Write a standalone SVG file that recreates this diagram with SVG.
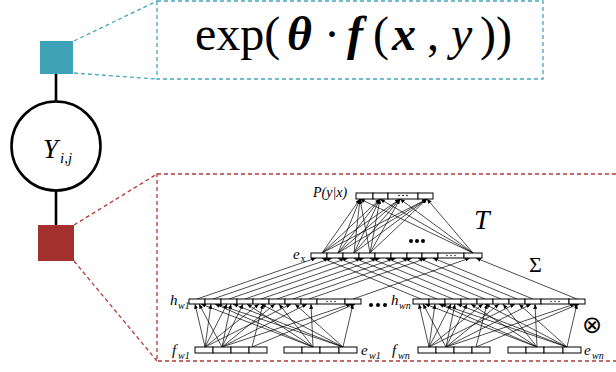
<svg xmlns="http://www.w3.org/2000/svg" width="616" height="372" viewBox="0 0 616 372">
<style>
.serif{font-family:"Liberation Serif","DejaVu Serif",serif;fill:#000}
.it{font-style:italic}
.bi{font-style:italic;font-weight:bold}
.thick{stroke:#000;stroke-width:2.6;fill:none}
.teal{stroke:#45A6BE;stroke-width:1.3;fill:none;stroke-dasharray:4 3}
.red{stroke:#B23A36;stroke-width:1.3;fill:none;stroke-dasharray:4 3}
.cell{fill:#fff;stroke:#000;stroke-width:1}
.e line{stroke:#000;stroke-width:0.7;marker-end:url(#ah)}
.dot{fill:#000}
</style>
<defs>
<marker id="ah" viewBox="0 0 6 5" refX="6" refY="2.5" markerWidth="5" markerHeight="4" markerUnits="userSpaceOnUse" orient="auto">
<path d="M0,0 L6,2.5 L0,5 z" fill="#000"/>
</marker>
</defs>
<rect width="616" height="372" fill="#fff"/>

<g id="connectors">
<line class="thick" x1="56" y1="74" x2="56" y2="101"/>
<line class="thick" x1="56" y1="191" x2="56" y2="225"/>
<line class="teal" x1="74" y1="41" x2="157" y2="1"/>
<line class="teal" x1="74" y1="73" x2="157" y2="79"/>
<line class="red" x1="74" y1="225" x2="157" y2="174"/>
<line class="red" x1="74" y1="261" x2="157" y2="361"/>
</g>

<g id="factor-top"><rect x="40" y="41" width="33" height="33" fill="#3FA2B7"/></g>
<g id="node-Y">
<circle cx="56" cy="146" r="44.5" fill="#fff" stroke="#000" stroke-width="2.6"/>
<text class="serif it" x="43" y="158" font-size="27">Y</text>
<text class="serif it" x="60" y="163" font-size="15">i,j</text>
</g>
<g id="factor-bottom"><rect x="38" y="225" width="36" height="36" fill="#A3302C"/></g>

<g id="formula-box">
<rect class="teal" x="157" y="1" width="386" height="78"/>
<text class="serif" y="50" font-size="48"><tspan x="195">exp(</tspan><tspan class="bi" x="287">θ</tspan><tspan x="324">·</tspan><tspan class="bi" x="347">f</tspan><tspan x="373">(</tspan><tspan class="bi" x="392">x</tspan><tspan x="427">,</tspan><tspan class="it" x="451">y</tspan><tspan x="480">))</tspan></text>
</g>

<g id="network-box">
<rect class="red" x="157" y="174" width="490" height="187"/>

<g class="e" id="edges-top">
<line x1="322" y1="253" x2="360" y2="199"/><line x1="322" y1="253" x2="380" y2="199"/><line x1="322" y1="253" x2="400" y2="199"/><line x1="322" y1="253" x2="427" y2="199"/>
<line x1="338" y1="253" x2="360" y2="199"/><line x1="338" y1="253" x2="380" y2="199"/><line x1="338" y1="253" x2="400" y2="199"/><line x1="338" y1="253" x2="427" y2="199"/>
<line x1="354" y1="253" x2="360" y2="199"/><line x1="354" y1="253" x2="380" y2="199"/><line x1="354" y1="253" x2="400" y2="199"/><line x1="354" y1="253" x2="427" y2="199"/>
<line x1="370" y1="253" x2="360" y2="199"/><line x1="370" y1="253" x2="380" y2="199"/><line x1="370" y1="253" x2="400" y2="199"/><line x1="370" y1="253" x2="427" y2="199"/>
<line x1="473" y1="253" x2="360" y2="199"/><line x1="473" y1="253" x2="380" y2="199"/><line x1="473" y1="253" x2="400" y2="199"/><line x1="473" y1="253" x2="427" y2="199"/>
</g>
<g class="e" id="edges-mid">
<line x1="197" y1="299" x2="316" y2="258"/><line x1="213" y1="299" x2="332" y2="258"/><line x1="229" y1="299" x2="348" y2="258"/><line x1="245" y1="299" x2="364" y2="258"/><line x1="261" y1="299" x2="380" y2="258"/><line x1="277" y1="299" x2="396" y2="258"/><line x1="293" y1="299" x2="412" y2="258"/><line x1="309" y1="299" x2="427" y2="258"/><line x1="353" y1="299" x2="470" y2="258"/>
<line x1="421" y1="299" x2="322" y2="258"/><line x1="437" y1="299" x2="338" y2="258"/><line x1="453" y1="299" x2="354" y2="258"/><line x1="469" y1="299" x2="370" y2="258"/><line x1="485" y1="299" x2="386" y2="258"/><line x1="501" y1="299" x2="402" y2="258"/><line x1="517" y1="299" x2="418" y2="258"/><line x1="533" y1="299" x2="433" y2="258"/><line x1="577" y1="299" x2="476" y2="258"/>
</g>
<g class="e" id="edges-w1">
<line x1="205" y1="347" x2="195" y2="304"/><line x1="205" y1="347" x2="211" y2="304"/><line x1="205" y1="347" x2="227" y2="304"/><line x1="205" y1="347" x2="259" y2="304"/><line x1="205" y1="347" x2="291" y2="304"/>
<line x1="222" y1="347" x2="199" y2="304"/><line x1="222" y1="347" x2="231" y2="304"/><line x1="222" y1="347" x2="243" y2="304"/><line x1="222" y1="347" x2="275" y2="304"/><line x1="222" y1="347" x2="307" y2="304"/><line x1="222" y1="347" x2="351" y2="304"/>
<line x1="252" y1="347" x2="263" y2="304"/><line x1="252" y1="347" x2="355" y2="304"/>
<line x1="313" y1="347" x2="201" y2="304"/><line x1="313" y1="347" x2="215" y2="304"/><line x1="313" y1="347" x2="247" y2="304"/><line x1="313" y1="347" x2="279" y2="304"/><line x1="313" y1="347" x2="311" y2="304"/>
<line x1="343" y1="347" x2="217" y2="304"/><line x1="343" y1="347" x2="233" y2="304"/><line x1="343" y1="347" x2="261" y2="304"/><line x1="343" y1="347" x2="295" y2="304"/><line x1="343" y1="347" x2="353" y2="304"/>
</g>
<g class="e" id="edges-wn">
<line x1="429" y1="347" x2="419" y2="304"/><line x1="429" y1="347" x2="435" y2="304"/><line x1="429" y1="347" x2="451" y2="304"/><line x1="429" y1="347" x2="483" y2="304"/><line x1="429" y1="347" x2="515" y2="304"/>
<line x1="446" y1="347" x2="423" y2="304"/><line x1="446" y1="347" x2="455" y2="304"/><line x1="446" y1="347" x2="467" y2="304"/><line x1="446" y1="347" x2="499" y2="304"/><line x1="446" y1="347" x2="531" y2="304"/><line x1="446" y1="347" x2="575" y2="304"/>
<line x1="476" y1="347" x2="487" y2="304"/><line x1="476" y1="347" x2="579" y2="304"/>
<line x1="537" y1="347" x2="425" y2="304"/><line x1="537" y1="347" x2="439" y2="304"/><line x1="537" y1="347" x2="471" y2="304"/><line x1="537" y1="347" x2="503" y2="304"/><line x1="537" y1="347" x2="535" y2="304"/>
<line x1="567" y1="347" x2="441" y2="304"/><line x1="567" y1="347" x2="457" y2="304"/><line x1="567" y1="347" x2="485" y2="304"/><line x1="567" y1="347" x2="519" y2="304"/><line x1="567" y1="347" x2="577" y2="304"/>
</g>

<g id="layer-P">
<rect class="cell" x="356" y="193" width="17" height="6"/><rect class="cell" x="373" y="193" width="15" height="6"/><rect class="cell" x="388" y="193" width="30" height="6"/><rect class="cell" x="418" y="193" width="15" height="6"/>
<circle class="dot" cx="399" cy="195.5" r="0.8"/><circle class="dot" cx="403" cy="195.5" r="0.8"/><circle class="dot" cx="407" cy="195.5" r="0.8"/>
<text class="serif it" x="313" y="197" font-size="14">P(y|x)</text>
</g>
<g id="layer-ex">
<rect class="cell" x="311" y="253" width="16" height="5"/><rect class="cell" x="327" y="253" width="16" height="5"/><rect class="cell" x="343" y="253" width="16" height="5"/><rect class="cell" x="359" y="253" width="16" height="5"/><rect class="cell" x="375" y="253" width="16" height="5"/><rect class="cell" x="391" y="253" width="16" height="5"/><rect class="cell" x="407" y="253" width="15" height="5"/><rect class="cell" x="422" y="253" width="16" height="5"/><rect class="cell" x="438" y="253" width="26" height="5"/><rect class="cell" x="464" y="253" width="18" height="5"/>
<circle class="dot" cx="447" cy="255.5" r="0.7"/><circle class="dot" cx="451" cy="255.5" r="0.7"/><circle class="dot" cx="455" cy="255.5" r="0.7"/>
<text class="serif it" x="293" y="259" font-size="15">e</text><text class="serif" x="300.5" y="262" font-size="10">x</text>
</g>
<g id="layer-hw1">
<rect class="cell" x="189" y="299" width="16" height="5"/><rect class="cell" x="205" y="299" width="16" height="5"/><rect class="cell" x="221" y="299" width="16" height="5"/><rect class="cell" x="237" y="299" width="16" height="5"/><rect class="cell" x="253" y="299" width="16" height="5"/><rect class="cell" x="269" y="299" width="16" height="5"/><rect class="cell" x="285" y="299" width="16" height="5"/><rect class="cell" x="301" y="299" width="16" height="5"/><rect class="cell" x="317" y="299" width="28" height="5"/><rect class="cell" x="345" y="299" width="16" height="5"/>
<circle class="dot" cx="327" cy="301.5" r="0.7"/><circle class="dot" cx="331" cy="301.5" r="0.7"/><circle class="dot" cx="335" cy="301.5" r="0.7"/>
<text class="serif it" x="170" y="305" font-size="15">h</text><text class="serif it" x="178" y="309" font-size="10">w1</text>
</g>
<g id="layer-hwn">
<rect class="cell" x="413" y="299" width="16" height="5"/><rect class="cell" x="429" y="299" width="16" height="5"/><rect class="cell" x="445" y="299" width="16" height="5"/><rect class="cell" x="461" y="299" width="16" height="5"/><rect class="cell" x="477" y="299" width="16" height="5"/><rect class="cell" x="493" y="299" width="16" height="5"/><rect class="cell" x="509" y="299" width="16" height="5"/><rect class="cell" x="525" y="299" width="16" height="5"/><rect class="cell" x="541" y="299" width="28" height="5"/><rect class="cell" x="569" y="299" width="16" height="5"/>
<circle class="dot" cx="551" cy="301.5" r="0.7"/><circle class="dot" cx="555" cy="301.5" r="0.7"/><circle class="dot" cx="559" cy="301.5" r="0.7"/>
<text class="serif it" x="391" y="305" font-size="15">h</text><text class="serif it" x="399" y="309" font-size="10">wn</text>
</g>
<g id="layer-fw1">
<rect class="cell" x="195" y="347" width="18" height="6"/><rect class="cell" x="213" y="347" width="18" height="6"/><rect class="cell" x="231" y="347" width="18" height="6"/><rect class="cell" x="249" y="347" width="18" height="6"/>
<text class="serif it" x="172" y="355" font-size="15">f</text><text class="serif it" x="178" y="359" font-size="10">w1</text>
</g>
<g id="layer-ew1">
<rect class="cell" x="284" y="347" width="18" height="6"/><rect class="cell" x="302" y="347" width="18" height="6"/><rect class="cell" x="320" y="347" width="19" height="6"/><rect class="cell" x="339" y="347" width="18" height="6"/>
<text class="serif it" x="361" y="355" font-size="15">e</text><text class="serif it" x="369" y="359" font-size="10">w1</text>
</g>
<g id="layer-fwn">
<rect class="cell" x="418" y="347" width="18" height="6"/><rect class="cell" x="436" y="347" width="18" height="6"/><rect class="cell" x="454" y="347" width="18" height="6"/><rect class="cell" x="472" y="347" width="18" height="6"/>
<text class="serif it" x="392" y="355" font-size="15">f</text><text class="serif it" x="398" y="359" font-size="10">wn</text>
</g>
<g id="layer-ewn">
<rect class="cell" x="508" y="347" width="18" height="6"/><rect class="cell" x="526" y="347" width="18" height="6"/><rect class="cell" x="544" y="347" width="19" height="6"/><rect class="cell" x="563" y="347" width="18" height="6"/>
<text class="serif it" x="584" y="355" font-size="15">e</text><text class="serif it" x="592" y="359" font-size="10">wn</text>
</g>
<g id="ellipses">
<circle class="dot" cx="411" cy="241" r="2"/><circle class="dot" cx="417" cy="241" r="2"/><circle class="dot" cx="423" cy="241" r="2"/>
<circle class="dot" cx="371" cy="305" r="2"/><circle class="dot" cx="378" cy="305" r="2"/><circle class="dot" cx="385" cy="305" r="2"/>
</g>
<text class="serif it" x="474" y="229" font-size="28">T</text>
<text class="serif" x="529" y="272" font-size="22">Σ</text>
<text x="592" y="333" font-size="24" text-anchor="middle" style="font-family:'DejaVu Sans',sans-serif">⊗</text>
</g>
</svg>
